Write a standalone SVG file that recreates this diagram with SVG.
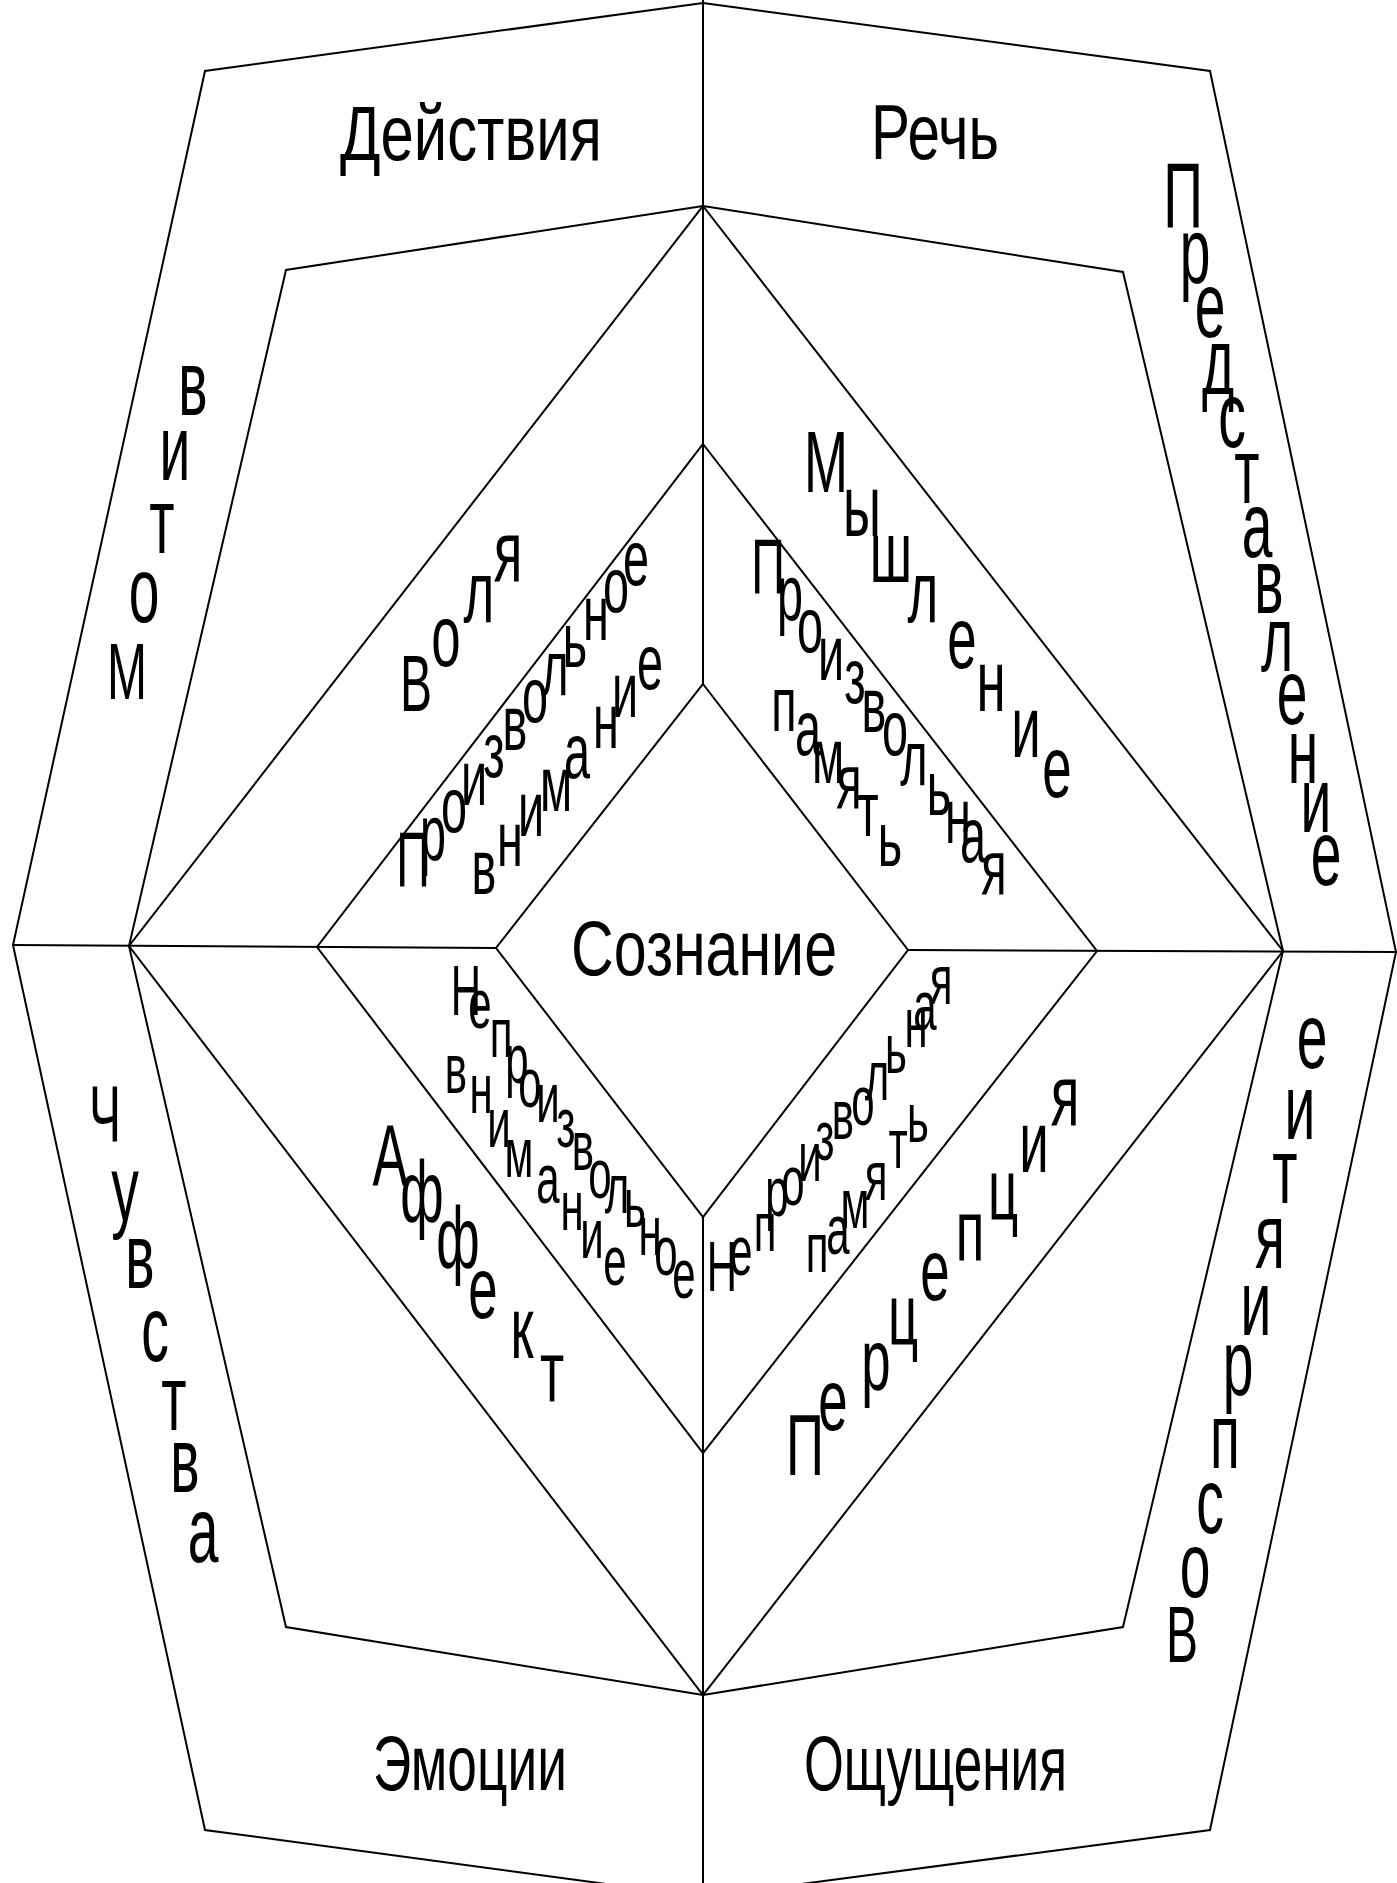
<svg xmlns="http://www.w3.org/2000/svg" width="1397" height="1883" viewBox="0 0 1397 1883">
<style>
.ln{fill:none;stroke:#000;stroke-width:2;stroke-linejoin:miter}
text{font-family:"Liberation Sans",Arial,sans-serif;fill:#000}
.w{font-size:78px}
.s text{text-anchor:middle}
.a{font-size:92px}
.b{font-size:88px}
.c{font-size:78px}
.d{font-size:70px}
.k{font-size:80px}
</style>
<rect width="1397" height="1883" fill="#fff"/>
<g id="connectors">
<polygon class="ln" points="703,3 1210,71 1396,952 1210,1830 703,1897 205,1830 13,945 205,71"/>
<polygon class="ln" points="703,206 1123,272 1283,951 1123,1627 703,1695 286,1627 129,946 286,270"/>
<polygon class="ln" points="703,206 1283,951 703,1695 129,946"/>
<polygon class="ln" points="703,444 1097,951 703,1453 317,947"/>
<polygon class="ln" points="703,684 908,950 703,1217 496,948"/>
<line class="ln" x1="703" y1="0" x2="703" y2="684"/>
<line class="ln" x1="703" y1="1217" x2="703" y2="1883"/>
<line class="ln" x1="13" y1="945" x2="496" y2="948"/>
<line class="ln" x1="908" y1="950" x2="1397" y2="952"/>
</g>
<g id="deystviya"><text class="w" x="340" y="160" textLength="262" lengthAdjust="spacingAndGlyphs">Действия</text></g>
<g id="rech"><text class="w" x="871" y="159" textLength="128" lengthAdjust="spacingAndGlyphs">Речь</text></g>
<g id="soznanie"><text class="w" x="571" y="975" textLength="266" lengthAdjust="spacingAndGlyphs">Сознание</text></g>
<g id="emotsii"><text class="w" x="373" y="1790" textLength="194" lengthAdjust="spacingAndGlyphs">Эмоции</text></g>
<g id="oshchushcheniya"><text class="w" x="804" y="1790" textLength="263" lengthAdjust="spacingAndGlyphs">Ощущения</text></g>
<g id="motiv" class="s a">
<text class="k" transform="translate(127 699) scale(.6 1)">М</text>
<text transform="translate(144 622) scale(.6 1)">о</text>
<text transform="translate(162 553) scale(.6 1)">т</text>
<text transform="translate(175 480) scale(.6 1)">и</text>
<text transform="translate(193 415) scale(.6 1)">в</text>
</g>
<g id="volya" class="s b">
<text class="k" transform="translate(416 711) scale(.6 1)">В</text>
<text transform="translate(446 666) scale(.6 1)">о</text>
<text transform="translate(479 622) scale(.6 1)">л</text>
<text transform="translate(508 582) scale(.6 1)">я</text>
</g>
<g id="proizvolnoe" class="s c">
<text transform="translate(413 887) scale(.6 1)">П</text>
<text transform="translate(433 860) scale(.6 1)">р</text>
<text transform="translate(454 832) scale(.6 1)">о</text>
<text transform="translate(474 805) scale(.6 1)">и</text>
<text transform="translate(494 777) scale(.6 1)">з</text>
<text transform="translate(515 750) scale(.6 1)">в</text>
<text transform="translate(535 722) scale(.6 1)">о</text>
<text transform="translate(555 695) scale(.6 1)">л</text>
<text transform="translate(575 667) scale(.6 1)">ь</text>
<text transform="translate(596 640) scale(.6 1)">н</text>
<text transform="translate(616 612) scale(.6 1)">о</text>
<text transform="translate(636 585) scale(.6 1)">е</text>
</g>
<g id="vnimanie-1" class="s c">
<text transform="translate(484 894) scale(.6 1)">в</text>
<text transform="translate(510 866) scale(.6 1)">н</text>
<text transform="translate(531 836) scale(.6 1)">и</text>
<text transform="translate(556 811) scale(.6 1)">м</text>
<text transform="translate(577 778) scale(.6 1)">а</text>
<text transform="translate(606 748) scale(.6 1)">н</text>
<text transform="translate(625 717) scale(.6 1)">и</text>
<text transform="translate(650 689) scale(.6 1)">е</text>
</g>
<g id="myshlenie" class="s b">
<text transform="translate(826 492) scale(.6 1)">М</text>
<text transform="translate(862 536) scale(.6 1)">ы</text>
<text transform="translate(891 582) scale(.6 1)">ш</text>
<text transform="translate(923 622) scale(.6 1)">л</text>
<text transform="translate(962 668) scale(.6 1)">е</text>
<text transform="translate(991 711) scale(.6 1)">н</text>
<text transform="translate(1026 757) scale(.6 1)">и</text>
<text transform="translate(1057 797) scale(.6 1)">е</text>
</g>
<g id="proizvolnaya" class="s c">
<text transform="translate(768 594) scale(.6 1)">П</text>
<text transform="translate(790 620) scale(.6 1)">р</text>
<text transform="translate(810 652) scale(.6 1)">о</text>
<text transform="translate(831 680) scale(.6 1)">и</text>
<text transform="translate(855 703) scale(.6 1)">з</text>
<text transform="translate(874 732) scale(.6 1)">в</text>
<text transform="translate(895 755) scale(.6 1)">о</text>
<text transform="translate(914 785) scale(.6 1)">л</text>
<text transform="translate(939 815) scale(.6 1)">ь</text>
<text transform="translate(958 843) scale(.6 1)">н</text>
<text transform="translate(973 862) scale(.6 1)">а</text>
<text transform="translate(994 894) scale(.6 1)">я</text>
</g>
<g id="pamyat-1" class="s c">
<text transform="translate(784 731) scale(.6 1)">п</text>
<text transform="translate(808 755) scale(.6 1)">а</text>
<text transform="translate(828 783) scale(.6 1)">м</text>
<text transform="translate(849 808) scale(.6 1)">я</text>
<text transform="translate(868 836) scale(.6 1)">т</text>
<text transform="translate(890 866) scale(.6 1)">ь</text>
</g>
<g id="predstavlenie" class="s a">
<text transform="translate(1183 228) scale(.6 1)">П</text>
<text transform="translate(1195 283) scale(.6 1)">р</text>
<text transform="translate(1210 337) scale(.6 1)">е</text>
<text transform="translate(1218 393) scale(.6 1)">д</text>
<text transform="translate(1232 447) scale(.6 1)">с</text>
<text transform="translate(1247 503) scale(.6 1)">т</text>
<text transform="translate(1257 557) scale(.6 1)">а</text>
<text transform="translate(1269 613) scale(.6 1)">в</text>
<text transform="translate(1277 671) scale(.6 1)">л</text>
<text transform="translate(1292 724) scale(.6 1)">е</text>
<text transform="translate(1303 783) scale(.6 1)">н</text>
<text transform="translate(1316 832) scale(.6 1)">и</text>
<text transform="translate(1326 885) scale(.6 1)">е</text>
</g>
<g id="chuvstva" class="s a">
<text class="k" transform="translate(105 1142) scale(.6 1)">Ч</text>
<text transform="translate(125 1221) scale(.6 1)">у</text>
<text transform="translate(140 1288) scale(.6 1)">в</text>
<text transform="translate(155 1361) scale(.6 1)">с</text>
<text transform="translate(174 1430) scale(.6 1)">т</text>
<text transform="translate(185 1492) scale(.6 1)">в</text>
<text transform="translate(203 1562) scale(.6 1)">а</text>
</g>
<g id="affekt" class="s b">
<text transform="translate(390 1186) scale(.6 1)">А</text>
<text transform="translate(422 1222) scale(.6 1)">ф</text>
<text transform="translate(458 1268) scale(.6 1)">ф</text>
<text transform="translate(483 1318) scale(.6 1)">е</text>
<text transform="translate(522 1358) scale(.6 1)">к</text>
<text transform="translate(552 1402) scale(.6 1)">т</text>
</g>
<g id="neproizvolnoe" class="s d">
<text transform="translate(466 1015) scale(.6 1)">Н</text>
<text transform="translate(480 1028) scale(.6 1)">е</text>
<text transform="translate(501 1057) scale(.6 1)">п</text>
<text transform="translate(517 1083) scale(.6 1)">р</text>
<text transform="translate(530 1107) scale(.6 1)">о</text>
<text transform="translate(548 1122) scale(.6 1)">и</text>
<text transform="translate(566 1147) scale(.6 1)">з</text>
<text transform="translate(583 1170) scale(.6 1)">в</text>
<text transform="translate(600 1198) scale(.6 1)">о</text>
<text transform="translate(617 1213) scale(.6 1)">л</text>
<text transform="translate(635 1227) scale(.6 1)">ь</text>
<text transform="translate(650 1255) scale(.6 1)">н</text>
<text transform="translate(666 1275) scale(.6 1)">о</text>
<text transform="translate(684 1298) scale(.6 1)">е</text>
</g>
<g id="vnimanie-2" class="s d">
<text transform="translate(456 1093) scale(.6 1)">в</text>
<text transform="translate(481 1113) scale(.6 1)">н</text>
<text transform="translate(499 1147) scale(.6 1)">и</text>
<text transform="translate(519 1177) scale(.6 1)">м</text>
<text transform="translate(548 1203) scale(.6 1)">а</text>
<text transform="translate(572 1230) scale(.6 1)">н</text>
<text transform="translate(592 1258) scale(.6 1)">и</text>
<text transform="translate(615 1285) scale(.6 1)">е</text>
</g>
<g id="neproizvolnaya" class="s d">
<text transform="translate(722 1291) scale(.6 1)">Н</text>
<text transform="translate(741 1275) scale(.6 1)">е</text>
<text transform="translate(765 1251) scale(.6 1)">п</text>
<text transform="translate(777 1216) scale(.6 1)">р</text>
<text transform="translate(793 1205) scale(.6 1)">о</text>
<text transform="translate(810 1181) scale(.6 1)">и</text>
<text transform="translate(825 1160) scale(.6 1)">з</text>
<text transform="translate(843 1139) scale(.6 1)">в</text>
<text transform="translate(863 1125) scale(.6 1)">о</text>
<text transform="translate(877 1100) scale(.6 1)">л</text>
<text transform="translate(896 1073) scale(.6 1)">ь</text>
<text transform="translate(916 1047) scale(.6 1)">н</text>
<text transform="translate(925 1030) scale(.6 1)">а</text>
<text transform="translate(941 1004) scale(.6 1)">я</text>
</g>
<g id="pamyat-2" class="s d">
<text transform="translate(817 1272) scale(.6 1)">п</text>
<text transform="translate(838 1254) scale(.6 1)">а</text>
<text transform="translate(855 1228) scale(.6 1)">м</text>
<text transform="translate(876 1200) scale(.6 1)">я</text>
<text transform="translate(898 1168) scale(.6 1)">т</text>
<text transform="translate(918 1142) scale(.6 1)">ь</text>
</g>
<g id="pertseptsiya" class="s b">
<text transform="translate(805 1475) scale(.6 1)">П</text>
<text transform="translate(833 1430) scale(.6 1)">е</text>
<text transform="translate(876 1390) scale(.6 1)">р</text>
<text transform="translate(903 1345) scale(.6 1)">ц</text>
<text transform="translate(935 1300) scale(.6 1)">е</text>
<text transform="translate(970 1261) scale(.6 1)">п</text>
<text transform="translate(1003 1220) scale(.6 1)">ц</text>
<text transform="translate(1034 1172) scale(.6 1)">и</text>
<text transform="translate(1065 1126) scale(.6 1)">я</text>
</g>
<g id="vospriyatie" class="s a">
<text class="k" transform="translate(1182 1662) scale(.6 1)">В</text>
<text transform="translate(1195 1597) scale(.6 1)">о</text>
<text transform="translate(1210 1533) scale(.6 1)">с</text>
<text transform="translate(1225 1468) scale(.6 1)">п</text>
<text transform="translate(1238 1395) scale(.6 1)">р</text>
<text transform="translate(1256 1335) scale(.6 1)">и</text>
<text transform="translate(1270 1268) scale(.6 1)">я</text>
<text transform="translate(1285 1203) scale(.6 1)">т</text>
<text transform="translate(1300 1139) scale(.6 1)">и</text>
<text transform="translate(1312 1068) scale(.6 1)">е</text>
</g>
</svg>
